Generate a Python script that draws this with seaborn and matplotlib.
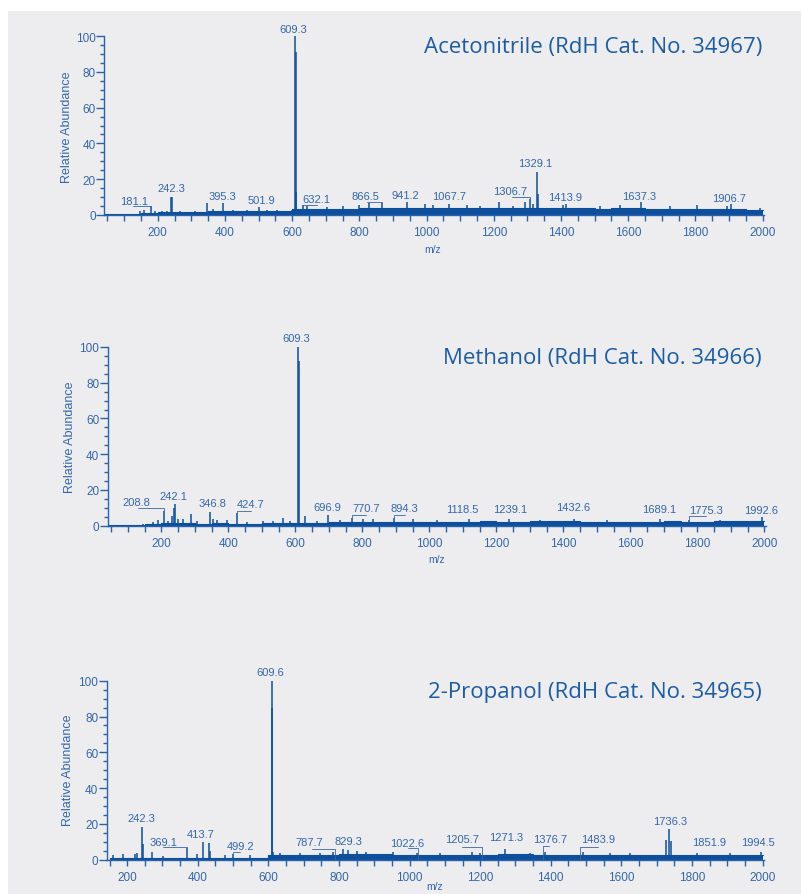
import matplotlib
matplotlib.use("Agg")
import matplotlib.pyplot as plt
from matplotlib.ticker import MultipleLocator
from matplotlib.patches import Rectangle
import seaborn as sns

sns.set_style("white")
plt.rcParams['font.family'] = ['Liberation Sans', 'DejaVu Sans']

# ---------------- data ----------------
titles = ["Acetonitrile (RdH Cat. No. 34967)",
          "Methanol (RdH Cat. No. 34966)",
          "2-Propanol (RdH Cat. No. 34965)"]

# noise-band envelope (step starts, m/z) and level (% rel. abundance)
env_mz = [40, 150] + list(range(200, 2001, 50))
env1 = [0.4, 1.3, 1.5, 1.6, 1.7, 2.0, 2.0, 2.0, 2.1, 2.1, 3.2, 3.4, 3.5, 3.6, 3.8, 3.8, 3.9, 3.9, 4.0,
        4.0, 3.9, 3.8, 3.9, 4.0, 4.0, 3.8, 4.0, 3.7, 3.6, 3.7, 3.7, 3.5, 3.4, 3.3, 3.3, 3.2, 3.2, 3.0, 3.0]
env2 = [0.3, 0.8, 1.3, 1.3, 1.2, 1.3, 1.2, 1.2, 1.3, 1.4, 1.6, 1.7, 1.8, 2.2, 2.3, 2.2, 2.2,
        2.3, 2.3, 2.2, 2.3, 2.4, 2.3, 2.3, 2.4, 2.5, 2.4, 2.3, 2.3, 2.3, 2.2, 2.3, 2.4, 2.3, 2.3, 2.4, 2.4, 2.6, 2.6]
env3 = [0.0, 0.8, 0.9, 1.0, 0.9, 1.0, 1.1, 1.0, 1.1, 1.2, 2.6, 2.5, 2.6, 2.8, 3.2, 3.2, 3.0, 2.9,
        2.9, 2.8, 2.8, 2.9, 2.9, 3.0, 3.0, 2.9, 2.8, 2.8, 2.8, 2.7, 2.8, 2.9, 2.7, 2.7, 2.7, 2.6, 2.7, 2.7, 2.7]

# peak sticks (m/z, % rel. abundance)
p1_mz = [147, 160, 181.1, 192, 212, 227, 240.6, 242.3, 266, 311, 347, 365, 395.3, 425, 465, 501.9, 524, 554,
         599, 609.3, 610.2, 612.5, 632.1, 643, 703, 752, 800, 830, 866.5, 941.2, 995, 1020, 1067.7, 1119,
         1159, 1216, 1258, 1293, 1306.7, 1318, 1329.1, 1330.3, 1407, 1413.9, 1516, 1576, 1637.3, 1724,
         1804, 1893, 1906.7, 1992]
p1_h = [2.4, 2.9, 4.8, 2.5, 2.5, 2.2, 10, 10.2, 2.2, 2.5, 6.5, 3.5, 6.5, 3, 2.8, 4.5, 2.8, 3.0,
        3, 100, 91, 13, 5.5, 5, 4.5, 5, 5.5, 6.5, 6.5, 7, 6, 5.5, 6, 5.5,
        5, 7, 5, 7.5, 9, 6, 24, 12, 5.5, 6, 5, 5.5, 7, 5,
        5.5, 5, 6, 4]

p2_mz = [146, 176, 191, 208.8, 221, 231, 238, 242.1, 251, 266, 288, 306, 346.8, 355, 365, 395, 424.7, 455,
         504, 534, 564, 584, 609.3, 610.1, 629, 664, 696.9, 733, 770.7, 803, 833, 894.3, 952, 1022,
         1118.5, 1239.1, 1331, 1432.6, 1530, 1689.1, 1775.3, 1868, 1992.6]
p2_h = [1.2, 2, 3, 8, 2.5, 5.5, 10, 12, 4, 3.5, 6.5, 2.5, 7.8, 3.5, 3, 3, 7, 2,
        2.5, 2.5, 4.5, 2.5, 100, 92, 5.5, 2.5, 6, 3, 4.5, 3.5, 3.5, 4.5, 3.5, 3,
        3.5, 3.5, 3, 4, 3, 3.5, 3.3, 3, 5]

p3_mz = [161, 187, 222, 229, 242.3, 245, 271, 302, 369.1, 397, 413.7, 431, 435, 477, 499.2, 548,
         609.6, 610.4, 614, 633, 690, 746, 784, 812, 826, 850, 878, 954, 1020, 1086, 1176, 1199,
         1271.3, 1341, 1383, 1492, 1568, 1624, 1727, 1736.3, 1741, 1813, 1908, 1994.5]
p3_h = [2.5, 3, 3, 3.5, 18.4, 9, 4.5, 2, 6.5, 3, 9.7, 9.5, 5, 2.5, 3, 2.5,
        100, 85, 4.5, 3.5, 3.5, 4, 4.5, 6, 5.5, 5, 4.5, 4.5, 4, 3.5, 4.5, 4,
        6, 4, 4.5, 4.5, 3.5, 4, 11, 17, 10.6, 3.5, 3.5, 4.5]

# peak labels: text, peak m/z, label x, label y, leader start x, leader y
lab1 = [("609.3", 609.3, 603, 104, None, None), ("181.1", 181.1, 130, 8.0, 126, 4.9),
        ("242.3", 242.3, 241.5, 15, None, None), ("395.3", 395.3, 392, 10.8, None, None),
        ("501.9", 501.9, 509, 8.2, None, None), ("632.1", 632.1, 671, 8.9, 673, 5.6),
        ("866.5", 866.5, 817, 10.4, 822, 7.3), ("941.2", 941.2, 936, 11.3, None, None),
        ("1067.7", 1067.7, 1067, 10.4, None, None), ("1306.7", 1306.7, 1250, 13.4, 1253, 9.9),
        ("1329.1", 1329.1, 1322, 28.9, None, None), ("1413.9", 1413.9, 1412, 10.2, None, None),
        ("1637.3", 1637.3, 1632, 10.6, None, None), ("1906.7", 1906.7, 1900, 9.5, None, None)]
lab2 = [("609.3", 609.3, 604, 105, None, None), ("208.8", 208.8, 126.6, 13.1, 131, 9.7),
        ("242.1", 242.1, 236, 16.8, None, None), ("346.8", 346.8, 353, 12.5, None, None),
        ("424.7", 424.7, 465, 12.1, 467, 8.4), ("696.9", 696.9, 694, 10.6, None, None),
        ("770.7", 770.7, 810, 9.7, 810, 6.2), ("894.3", 894.3, 927, 9.7, 928, 5.8),
        ("1118.5", 1118.5, 1099, 9.3, None, None), ("1239.1", 1239.1, 1241, 9.3, None, None),
        ("1432.6", 1432.6, 1430, 10.3, None, None), ("1689.1", 1689.1, 1687, 9.3, None, None),
        ("1775.3", 1775.3, 1826, 8.8, 1826, 5.3), ("1992.6", 1992.6, 1989, 8.8, None, None)]
lab3 = [("609.6", 609.6, 606.6, 105, None, None), ("242.3", 242.3, 241, 23.1, None, None),
        ("369.1", 369.1, 302, 9.7, 302, 7.3), ("413.7", 413.7, 409, 14.4, None, None),
        ("499.2", 499.2, 521.6, 7.8, 521, 4.5), ("787.7", 787.7, 716, 10, 723, 6.0),
        ("829.3", 829.3, 828, 10.6, None, None), ("1022.6", 1022.6, 992, 9.2, 996, 6.4),
        ("1205.7", 1205.7, 1148, 11.6, 1149, 7.3), ("1271.3", 1271.3, 1273, 12.5, None, None),
        ("1376.7", 1376.7, 1398, 11.6, 1396, 7.5), ("1483.9", 1483.9, 1535, 11.6, 1535, 7.3),
        ("1736.3", 1736.3, 1738, 21.8, None, None), ("1851.9", 1851.9, 1849, 9.7, None, None),
        ("1994.5", 1994.5, 1988, 9.7, None, None)]

envs = [env1, env2, env3]
peaks = [(p1_mz, p1_h), (p2_mz, p2_h), (p3_mz, p3_h)]
labels = [lab1, lab2, lab3]
xmins = [40, 40, 142]

# ---------------- style ----------------
W, H = 802, 895
BG = "#ededf0"
SPC = "#0d4f9c"
AXC = "#2a62a8"
TXC = "#3566aa"
TTC = "#1c5ca4"

# axes boxes in pixels: left, y of zero line, width, height
boxes = [(104, 216, 660.2, 179), (107.7, 526.7, 658.3, 178.7), (106.7, 860.7, 657.6, 179)]
ylabel_pos = [(66.7, 127), (70, 437), (68.3, 770)]
mz_pos = [(433, 250), (436.7, 560), (435, 887)]
title_pos = [(762, 48), (762, 359), (762, 693)]

fig = plt.figure(figsize=(W / 100, H / 100), dpi=100)
fig.patch.set_facecolor("white")
fig.add_artist(Rectangle((8 / W, 0), (801 - 8) / W, (H - 12) / H, transform=fig.transFigure,
                         facecolor=BG, edgecolor="none", zorder=-10))

for i in range(3):
    L, B, Wd, Ht = boxes[i]
    ax = fig.add_axes([L / W, (H - B) / H, Wd / W, Ht / H])
    ax.set_facecolor("none")
    ax.set_xlim(xmins[i], 2005)
    ax.set_ylim(0, 100)

    lv = envs[i]
    ax.fill_between(env_mz, 0, lv, step="post", color=SPC, lw=0, zorder=2)
    sns.lineplot(x=env_mz, y=lv, drawstyle="steps-post", color=SPC, lw=0.8,
                 estimator=None, ax=ax, zorder=2)
    mz, hh = peaks[i]
    ax.vlines(mz, 0, hh, color=SPC, lw=1.1, zorder=3)

    for (txt, pmz, lx, ly, x0, y0) in labels[i]:
        ax.text(lx, ly, txt, ha="center", va="center", fontsize=8, color=TXC, clip_on=False)
        if x0 is not None:
            ph = hh[list(mz).index(pmz)] if pmz in mz else 0
            ax.plot([x0, pmz, pmz], [y0, y0, max(ph, 0)], color=TXC, lw=0.6, clip_on=False, zorder=4)

    for s in ["top", "right"]:
        ax.spines[s].set_visible(False)
    for s in ["left", "bottom"]:
        ax.spines[s].set_color(AXC)
        ax.spines[s].set_linewidth(1.0)
        ax.spines[s].set_zorder(5)

    ax.xaxis.set_major_locator(MultipleLocator(200))
    ax.xaxis.set_minor_locator(MultipleLocator(50))
    ax.yaxis.set_major_locator(MultipleLocator(20))
    ax.yaxis.set_minor_locator(MultipleLocator(5))
    ax.tick_params(axis="x", which="both", bottom=True, direction="out", length=4, width=1, color=AXC,
                   labelcolor=TXC, labelsize=8.5, pad=4)
    ax.tick_params(axis="y", which="major", left=True, direction="out", length=5.5, width=1, color=AXC,
                   labelcolor=TXC, labelsize=8.5, pad=0.5)
    ax.tick_params(axis="y", which="minor", left=True, direction="out", length=3, width=1, color=AXC)
    ax.set_xlabel("")
    ax.set_ylabel("")

    fig.text(ylabel_pos[i][0] / W, 1 - ylabel_pos[i][1] / H, "Relative Abundance", rotation=90,
             ha="center", va="center", fontsize=9, color=TXC)
    fig.text(mz_pos[i][0] / W, 1 - mz_pos[i][1] / H, "m/z", ha="center", va="center",
             fontsize=7.5, color=TXC)
    fig.text(title_pos[i][0] / W, 1 - title_pos[i][1] / H, titles[i], ha="right", va="center",
             fontsize=16, color=TTC, family=["Open Sans", "DejaVu Sans"])

fig.savefig("out.png", dpi=100, facecolor="white")
